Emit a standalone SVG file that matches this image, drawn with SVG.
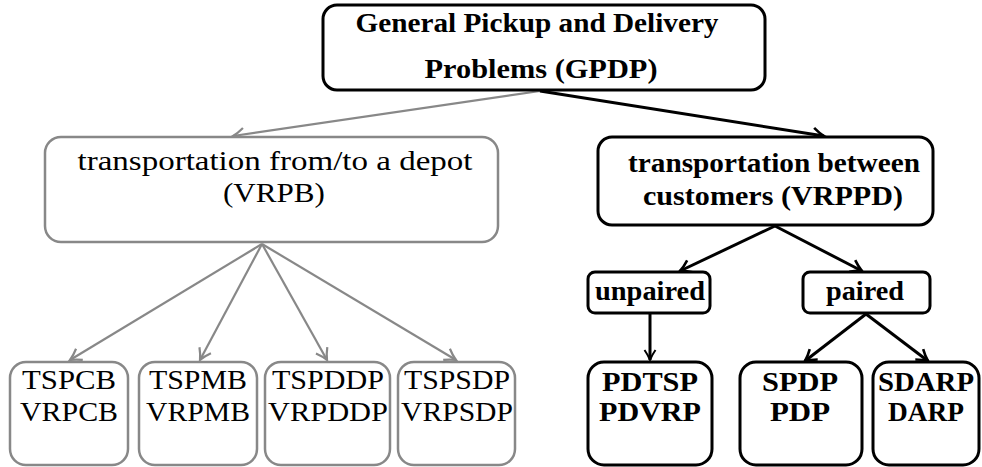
<svg xmlns="http://www.w3.org/2000/svg" width="982" height="467" viewBox="0 0 982 467">
<style>
.t{font-family:"Liberation Serif","DejaVu Serif",serif;font-size:26.5px;fill:#000;text-anchor:middle}
.b{font-weight:bold}
.gbox{fill:#fff;stroke:#888;stroke-width:2.5}
.kbox{fill:#fff;stroke:#000;stroke-width:3}
.gl{stroke:#888;stroke-width:2.2;fill:none}
.kl{stroke:#000;stroke-width:3;fill:none}
</style>
<defs>
<marker id="ag" markerUnits="userSpaceOnUse" markerWidth="20" markerHeight="20" refX="14" refY="10" orient="auto">
<path d="M3,3.5 Q9,8 14,10 Q9,12 3,16.5" fill="none" stroke="#888" stroke-width="2.2"/>
</marker>
<marker id="ak" markerUnits="userSpaceOnUse" markerWidth="20" markerHeight="20" refX="14" refY="10" orient="auto">
<path d="M3,3.5 Q9,8 14,10 Q9,12 3,16.5" fill="none" stroke="#000" stroke-width="2.6"/>
</marker>
<marker id="ak2" markerUnits="userSpaceOnUse" markerWidth="20" markerHeight="20" refX="14" refY="10" orient="auto">
<path d="M4,4.5 Q9,8 14,10 Q9,12 4,15.5" fill="none" stroke="#000" stroke-width="2"/>
</marker>
</defs>
<g id="connectors">
<line class="gl" x1="540" y1="91" x2="233" y2="136" marker-end="url(#ag)"/>
<line class="kl" x1="540" y1="91" x2="824" y2="136" marker-end="url(#ak)"/>
<line class="gl" x1="262" y1="244" x2="70" y2="360" marker-end="url(#ag)"/>
<line class="gl" x1="262" y1="244" x2="200" y2="360" marker-end="url(#ag)"/>
<line class="gl" x1="262" y1="244" x2="327" y2="360" marker-end="url(#ag)"/>
<line class="gl" x1="262" y1="244" x2="456" y2="360" marker-end="url(#ag)"/>
<line class="kl" x1="775" y1="226" x2="680" y2="271" marker-end="url(#ak)"/>
<line class="kl" x1="775" y1="226" x2="862" y2="271" marker-end="url(#ak)"/>
<line class="kl" x1="650" y1="314" x2="650" y2="360" stroke-width="1.8" marker-end="url(#ak2)"/>
<line class="kl" x1="866" y1="314" x2="805" y2="361" marker-end="url(#ak)"/>
<line class="kl" x1="866" y1="314" x2="928" y2="361" marker-end="url(#ak)"/>
</g>
<g id="gpdp">
<rect class="kbox" x="323" y="5" width="442" height="85" rx="14"/>
<text class="t b" x="537" y="32" textLength="363" lengthAdjust="spacingAndGlyphs">General Pickup and Delivery</text>
<text class="t b" x="541" y="78" textLength="233" lengthAdjust="spacingAndGlyphs">Problems (GPDP)</text>
</g>
<g id="vrpb">
<rect class="gbox" x="45" y="137" width="453" height="105" rx="16"/>
<text class="t" x="275" y="170" textLength="395" lengthAdjust="spacingAndGlyphs">transportation from/to a depot</text>
<text class="t" x="274" y="202" textLength="102" lengthAdjust="spacingAndGlyphs">(VRPB)</text>
</g>
<g id="vrppd">
<rect class="kbox" x="598" y="137" width="335" height="88" rx="14"/>
<text class="t b" x="774" y="172" textLength="292" lengthAdjust="spacingAndGlyphs">transportation between</text>
<text class="t b" x="773" y="205" textLength="260" lengthAdjust="spacingAndGlyphs">customers (VRPPD)</text>
</g>
<g id="unpaired">
<rect class="kbox" x="588" y="272" width="122" height="41" rx="7"/>
<text class="t b" x="650" y="300" textLength="110" lengthAdjust="spacingAndGlyphs">unpaired</text>
</g>
<g id="paired">
<rect class="kbox" x="803" y="272" width="127" height="41" rx="7"/>
<text class="t b" x="865" y="300" textLength="78" lengthAdjust="spacingAndGlyphs">paired</text>
</g>
<g id="tspcb">
<rect class="gbox" x="10" y="362" width="118" height="103" rx="16"/>
<text class="t" x="69" y="389" textLength="94" lengthAdjust="spacingAndGlyphs">TSPCB</text>
<text class="t" x="69" y="421" textLength="98" lengthAdjust="spacingAndGlyphs">VRPCB</text>
</g>
<g id="tspmb">
<rect class="gbox" x="139" y="362" width="118" height="103" rx="16"/>
<text class="t" x="198" y="389" textLength="98" lengthAdjust="spacingAndGlyphs">TSPMB</text>
<text class="t" x="198" y="421" textLength="104" lengthAdjust="spacingAndGlyphs">VRPMB</text>
</g>
<g id="tspddp">
<rect class="gbox" x="265" y="362" width="125" height="103" rx="16"/>
<text class="t" x="328" y="389" textLength="112" lengthAdjust="spacingAndGlyphs">TSPDDP</text>
<text class="t" x="328" y="421" textLength="120" lengthAdjust="spacingAndGlyphs">VRPDDP</text>
</g>
<g id="tspsdp">
<rect class="gbox" x="398" y="362" width="117" height="103" rx="16"/>
<text class="t" x="457" y="389" textLength="106" lengthAdjust="spacingAndGlyphs">TSPSDP</text>
<text class="t" x="457" y="421" textLength="112" lengthAdjust="spacingAndGlyphs">VRPSDP</text>
</g>
<g id="pdtsp">
<rect class="kbox" x="588" y="362" width="124" height="103" rx="16"/>
<text class="t b" x="650" y="391" textLength="96" lengthAdjust="spacingAndGlyphs">PDTSP</text>
<text class="t b" x="650" y="421" textLength="102" lengthAdjust="spacingAndGlyphs">PDVRP</text>
</g>
<g id="spdp">
<rect class="kbox" x="740" y="362" width="122" height="103" rx="16"/>
<text class="t b" x="800" y="391" textLength="76" lengthAdjust="spacingAndGlyphs">SPDP</text>
<text class="t b" x="800" y="421" textLength="60" lengthAdjust="spacingAndGlyphs">PDP</text>
</g>
<g id="sdarp">
<rect class="kbox" x="873" y="362" width="106" height="103" rx="16"/>
<text class="t b" x="926" y="391" textLength="96" lengthAdjust="spacingAndGlyphs">SDARP</text>
<text class="t b" x="926" y="421" textLength="76" lengthAdjust="spacingAndGlyphs">DARP</text>
</g>
</svg>
